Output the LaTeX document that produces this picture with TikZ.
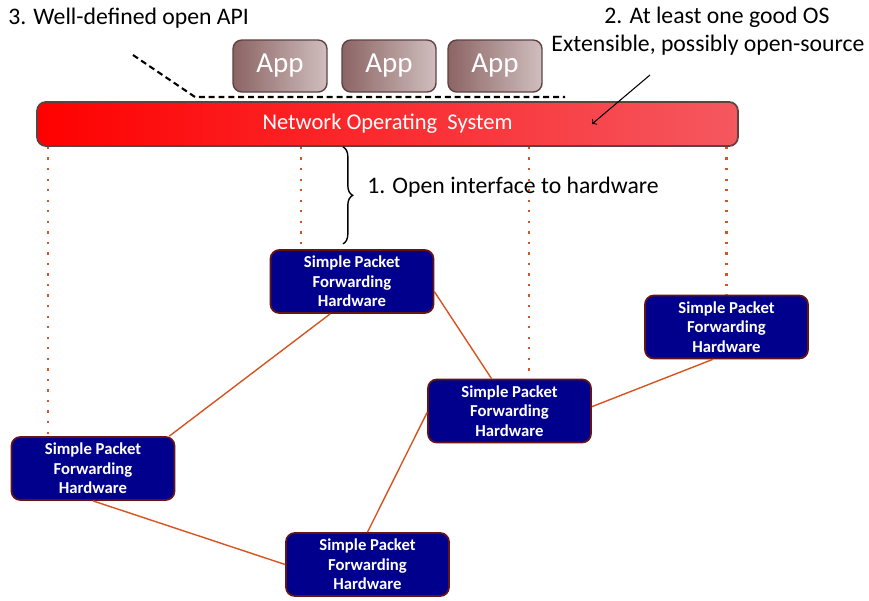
\documentclass[tikz,border=0pt]{standalone}
\usepackage{fontspec}
\setmainfont{Carlito}
\usetikzlibrary{decorations.pathreplacing}
\definecolor{nosLeft}{RGB}{255,0,0}
\definecolor{nosRight}{RGB}{245,88,96}
\definecolor{appLeft}{RGB}{140,100,100}
\definecolor{appRight}{RGB}{208,190,190}
\definecolor{appBorder}{RGB}{95,65,65}
\definecolor{hwFill}{RGB}{0,0,140}
\definecolor{hwBorder}{RGB}{100,20,20}
\definecolor{linkRed}{RGB}{214,84,32}

\begin{document}
\begin{tikzpicture}[x=0.02cm, y=-0.02cm,
    hwbox/.style={draw=hwBorder, line width=1pt, fill=hwFill, rounded corners=5pt,
        minimum width=3.26cm, minimum height=1.26cm, text=white, align=center,
        font=\fontsize{9.5}{11}\selectfont\bfseries},
    appbox/.style={draw=appBorder, line width=0.8pt, left color=appLeft, right color=appRight,
        rounded corners=5pt, minimum width=1.88cm, minimum height=1.04cm, text=white,
        font=\fontsize{16.5}{18}\selectfont},
    link/.style={draw=linkRed, line width=0.8pt},
    vlink/.style={draw=linkRed, line width=1.5pt, dash pattern=on 1.3pt off 4.7pt},
    note/.style={font=\fontsize{13.5}{15}\selectfont}]
    \useasboundingbox (0,0) rectangle (869,600);

    % network operating system and apps
    \node[draw=appBorder, line width=1pt, left color=nosLeft, right color=nosRight,
        rounded corners=5pt, minimum width=14.02cm, minimum height=0.88cm, text=white,
        font=\fontsize{12.8}{14}\selectfont] (nos) at (387.5,124) {Network Operating\ \ System};
    \node[appbox] (app1) at (280,66) {App};
    \node[appbox] (app2) at (389,66) {App};
    \node[appbox] (app3) at (495,66) {App};

    % forwarding hardware
    \node[hwbox] (hwtop) at (352,281.5) {Simple Packet\\Forwarding\\Hardware};
    \node[hwbox] (hwright) at (726.5,327) {Simple Packet\\Forwarding\\Hardware};
    \node[hwbox] (hwmid) at (509.5,411) {Simple Packet\\Forwarding\\Hardware};
    \node[hwbox] (hwleft) at (93,468.5) {Simple Packet\\Forwarding\\Hardware};
    \node[hwbox] (hwbot) at (367.5,564.5) {Simple Packet\\Forwarding\\Hardware};

    \draw[link] (hwtop.236) -- (hwleft.23);
    \draw[link] (hwtop.-7) -- (hwmid.119);
    \draw[link] (hwmid.3) -- (hwright.247);
    \draw[link] (hwmid.181) -- (hwbot.north);
    \draw[link] (hwleft.south) -- (hwbot.west);

    % control links
    \coordinate (d1) at (48,0);
    \coordinate (d2) at (301,0);
    \coordinate (d3) at (529,0);
    \draw[vlink] (nos.south -| d1) -- (hwleft.north -| d1);
    \draw[vlink] (nos.south -| d2) -- (hwtop.north -| d2);
    \draw[vlink] (nos.south -| d3) -- (hwmid.north -| d3);
    \draw[vlink] (nos.south -| hwright.north) -- (hwright.north);

    % open interface
    \coordinate (br) at (343,0);
    \draw[decorate, decoration={brace, amplitude=5.5pt}, line width=0.8pt]
        (nos.south -| br) -- ([yshift=3pt]hwtop.north -| br);
    \node[note, anchor=west, inner sep=0pt] (iface) at (367,187) {1. Open interface to hardware};

    % open api
    \node[note, anchor=west, inner sep=0pt] (api) at (8,18) {3. Well-defined open API};
    \coordinate (api1) at (133,55);
    \coordinate (api2) at (195,97);
    \coordinate (api3) at (565,97);
    \draw[line width=1.2pt, dash pattern=on 3.4pt off 2.2pt] (api1) -- (api2) -- (api3);

    % good os
    \node[note] (os) at (717,17) {2. At least one good OS};
    \node[note] (ext) at (708,45) {Extensible, possibly open-source};
    \coordinate (arrowstart) at (650,75);
    \coordinate (arrowend) at (592,124);
    \draw[->, line width=0.6pt] (arrowstart) -- (arrowend);
\end{tikzpicture}
\end{document}
